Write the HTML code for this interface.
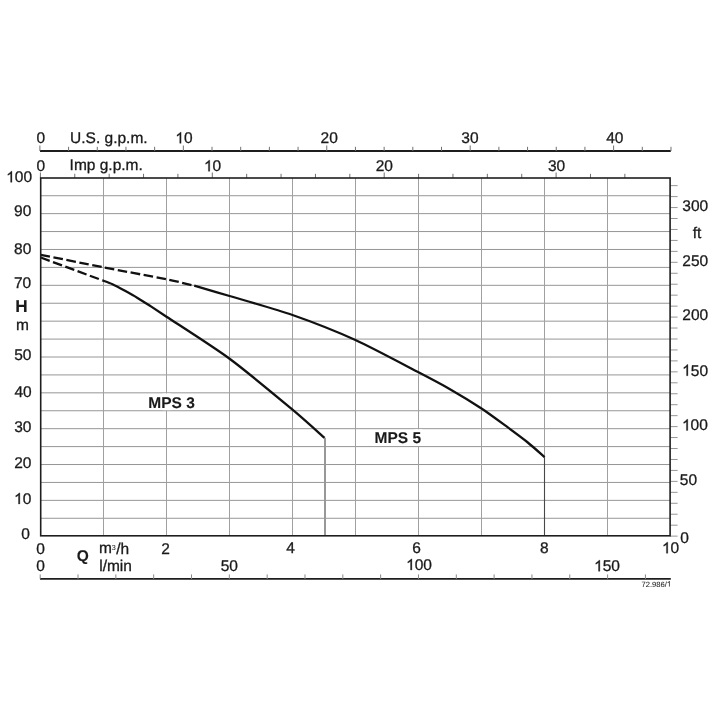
<!DOCTYPE html>
<html><head><meta charset="utf-8"><style>
html,body{margin:0;padding:0;background:#fff;width:720px;height:720px;overflow:hidden}
svg{display:block;will-change:transform}
</style></head><body>
<svg width="720" height="720" viewBox="0 0 720 720" font-family="Liberation Sans, sans-serif" fill="#1a1a1a" text-rendering="geometricPrecision">
<rect width="720" height="720" fill="#fff"/>
<line x1="40.70" y1="518.28" x2="670.10" y2="518.28" stroke="#969696" stroke-width="1"/>
<line x1="40.70" y1="500.36" x2="670.10" y2="500.36" stroke="#969696" stroke-width="1"/>
<line x1="40.70" y1="482.44" x2="670.10" y2="482.44" stroke="#969696" stroke-width="1"/>
<line x1="40.70" y1="464.52" x2="670.10" y2="464.52" stroke="#969696" stroke-width="1"/>
<line x1="40.70" y1="446.60" x2="670.10" y2="446.60" stroke="#969696" stroke-width="1"/>
<line x1="40.70" y1="428.68" x2="670.10" y2="428.68" stroke="#969696" stroke-width="1"/>
<line x1="40.70" y1="410.76" x2="670.10" y2="410.76" stroke="#969696" stroke-width="1"/>
<line x1="40.70" y1="392.84" x2="670.10" y2="392.84" stroke="#969696" stroke-width="1"/>
<line x1="40.70" y1="374.92" x2="670.10" y2="374.92" stroke="#969696" stroke-width="1"/>
<line x1="40.70" y1="357.00" x2="670.10" y2="357.00" stroke="#969696" stroke-width="1"/>
<line x1="40.70" y1="339.08" x2="670.10" y2="339.08" stroke="#969696" stroke-width="1"/>
<line x1="40.70" y1="321.16" x2="670.10" y2="321.16" stroke="#969696" stroke-width="1"/>
<line x1="40.70" y1="303.24" x2="670.10" y2="303.24" stroke="#969696" stroke-width="1"/>
<line x1="40.70" y1="285.32" x2="670.10" y2="285.32" stroke="#969696" stroke-width="1"/>
<line x1="40.70" y1="267.40" x2="670.10" y2="267.40" stroke="#969696" stroke-width="1"/>
<line x1="40.70" y1="249.48" x2="670.10" y2="249.48" stroke="#969696" stroke-width="1"/>
<line x1="40.70" y1="231.56" x2="670.10" y2="231.56" stroke="#969696" stroke-width="1"/>
<line x1="40.70" y1="213.64" x2="670.10" y2="213.64" stroke="#969696" stroke-width="1"/>
<line x1="40.70" y1="195.72" x2="670.10" y2="195.72" stroke="#969696" stroke-width="1"/>
<rect x="103" y="178.00" width="1" height="357.80" fill="#a0a0a0"/>
<rect x="166" y="178.00" width="1" height="357.80" fill="#a0a0a0"/>
<rect x="229" y="178.00" width="1" height="357.80" fill="#a0a0a0"/>
<rect x="292" y="178.00" width="1" height="357.80" fill="#a0a0a0"/>
<rect x="355" y="178.00" width="1" height="357.80" fill="#a0a0a0"/>
<rect x="418" y="178.00" width="1" height="357.80" fill="#a0a0a0"/>
<rect x="481" y="178.00" width="1" height="357.80" fill="#a0a0a0"/>
<rect x="544" y="178.00" width="1" height="357.80" fill="#a0a0a0"/>
<rect x="607" y="178.00" width="1" height="357.80" fill="#a0a0a0"/>
<rect x="162.58" y="393.44" width="8" height="16.72" fill="#fff"/>
<rect x="414.34" y="429.28" width="8" height="16.72" fill="#fff"/>
<line x1="670.10" y1="536.14" x2="677.60" y2="536.14" stroke="#969696" stroke-width="1"/>
<line x1="670.10" y1="525.19" x2="677.60" y2="525.19" stroke="#969696" stroke-width="1"/>
<line x1="670.10" y1="514.23" x2="677.60" y2="514.23" stroke="#969696" stroke-width="1"/>
<line x1="670.10" y1="503.28" x2="677.60" y2="503.28" stroke="#969696" stroke-width="1"/>
<line x1="670.10" y1="492.33" x2="677.60" y2="492.33" stroke="#969696" stroke-width="1"/>
<line x1="670.10" y1="481.38" x2="677.60" y2="481.38" stroke="#969696" stroke-width="1"/>
<line x1="670.10" y1="470.42" x2="677.60" y2="470.42" stroke="#969696" stroke-width="1"/>
<line x1="670.10" y1="459.47" x2="677.60" y2="459.47" stroke="#969696" stroke-width="1"/>
<line x1="670.10" y1="448.52" x2="677.60" y2="448.52" stroke="#969696" stroke-width="1"/>
<line x1="670.10" y1="437.56" x2="677.60" y2="437.56" stroke="#969696" stroke-width="1"/>
<line x1="670.10" y1="426.61" x2="677.60" y2="426.61" stroke="#969696" stroke-width="1"/>
<line x1="670.10" y1="415.66" x2="677.60" y2="415.66" stroke="#969696" stroke-width="1"/>
<line x1="670.10" y1="404.70" x2="677.60" y2="404.70" stroke="#969696" stroke-width="1"/>
<line x1="670.10" y1="393.75" x2="677.60" y2="393.75" stroke="#969696" stroke-width="1"/>
<line x1="670.10" y1="382.80" x2="677.60" y2="382.80" stroke="#969696" stroke-width="1"/>
<line x1="670.10" y1="371.85" x2="677.60" y2="371.85" stroke="#969696" stroke-width="1"/>
<line x1="670.10" y1="360.89" x2="677.60" y2="360.89" stroke="#969696" stroke-width="1"/>
<line x1="670.10" y1="349.94" x2="677.60" y2="349.94" stroke="#969696" stroke-width="1"/>
<line x1="670.10" y1="338.99" x2="677.60" y2="338.99" stroke="#969696" stroke-width="1"/>
<line x1="670.10" y1="328.03" x2="677.60" y2="328.03" stroke="#969696" stroke-width="1"/>
<line x1="670.10" y1="317.08" x2="677.60" y2="317.08" stroke="#969696" stroke-width="1"/>
<line x1="670.10" y1="306.13" x2="677.60" y2="306.13" stroke="#969696" stroke-width="1"/>
<line x1="670.10" y1="295.17" x2="677.60" y2="295.17" stroke="#969696" stroke-width="1"/>
<line x1="670.10" y1="284.22" x2="677.60" y2="284.22" stroke="#969696" stroke-width="1"/>
<line x1="670.10" y1="273.27" x2="677.60" y2="273.27" stroke="#969696" stroke-width="1"/>
<line x1="670.10" y1="262.31" x2="677.60" y2="262.31" stroke="#969696" stroke-width="1"/>
<line x1="670.10" y1="251.36" x2="677.60" y2="251.36" stroke="#969696" stroke-width="1"/>
<line x1="670.10" y1="240.41" x2="677.60" y2="240.41" stroke="#969696" stroke-width="1"/>
<line x1="670.10" y1="229.46" x2="677.60" y2="229.46" stroke="#969696" stroke-width="1"/>
<line x1="670.10" y1="218.50" x2="677.60" y2="218.50" stroke="#969696" stroke-width="1"/>
<line x1="670.10" y1="207.55" x2="677.60" y2="207.55" stroke="#969696" stroke-width="1"/>
<line x1="670.10" y1="196.60" x2="677.60" y2="196.60" stroke="#969696" stroke-width="1"/>
<line x1="670.10" y1="185.64" x2="677.60" y2="185.64" stroke="#969696" stroke-width="1"/>
<line x1="40.00" y1="151.0" x2="670.80" y2="151.0" stroke="#1e1e1e" stroke-width="1.8"/>
<line x1="39.90" y1="145.5" x2="39.90" y2="151.0" stroke="#707070" stroke-width="1"/>
<line x1="68.59" y1="146.8" x2="68.59" y2="151.0" stroke="#707070" stroke-width="1"/>
<line x1="97.27" y1="146.8" x2="97.27" y2="151.0" stroke="#707070" stroke-width="1"/>
<line x1="125.96" y1="146.8" x2="125.96" y2="151.0" stroke="#707070" stroke-width="1"/>
<line x1="154.64" y1="146.8" x2="154.64" y2="151.0" stroke="#707070" stroke-width="1"/>
<line x1="183.33" y1="145.5" x2="183.33" y2="151.0" stroke="#707070" stroke-width="1"/>
<line x1="212.02" y1="146.8" x2="212.02" y2="151.0" stroke="#707070" stroke-width="1"/>
<line x1="240.70" y1="146.8" x2="240.70" y2="151.0" stroke="#707070" stroke-width="1"/>
<line x1="269.39" y1="146.8" x2="269.39" y2="151.0" stroke="#707070" stroke-width="1"/>
<line x1="298.07" y1="146.8" x2="298.07" y2="151.0" stroke="#707070" stroke-width="1"/>
<line x1="326.76" y1="145.5" x2="326.76" y2="151.0" stroke="#707070" stroke-width="1"/>
<line x1="355.45" y1="146.8" x2="355.45" y2="151.0" stroke="#707070" stroke-width="1"/>
<line x1="384.13" y1="146.8" x2="384.13" y2="151.0" stroke="#707070" stroke-width="1"/>
<line x1="412.82" y1="146.8" x2="412.82" y2="151.0" stroke="#707070" stroke-width="1"/>
<line x1="441.50" y1="146.8" x2="441.50" y2="151.0" stroke="#707070" stroke-width="1"/>
<line x1="470.19" y1="145.5" x2="470.19" y2="151.0" stroke="#707070" stroke-width="1"/>
<line x1="498.88" y1="146.8" x2="498.88" y2="151.0" stroke="#707070" stroke-width="1"/>
<line x1="527.56" y1="146.8" x2="527.56" y2="151.0" stroke="#707070" stroke-width="1"/>
<line x1="556.25" y1="146.8" x2="556.25" y2="151.0" stroke="#707070" stroke-width="1"/>
<line x1="584.93" y1="146.8" x2="584.93" y2="151.0" stroke="#707070" stroke-width="1"/>
<line x1="613.62" y1="145.5" x2="613.62" y2="151.0" stroke="#707070" stroke-width="1"/>
<line x1="642.31" y1="146.8" x2="642.31" y2="151.0" stroke="#707070" stroke-width="1"/>
<line x1="670.99" y1="146.8" x2="670.99" y2="151.0" stroke="#707070" stroke-width="1"/>
<line x1="40.40" y1="172.49999999999994" x2="40.40" y2="177.99999999999994" stroke="#707070" stroke-width="1"/>
<line x1="74.78" y1="173.79999999999995" x2="74.78" y2="177.99999999999994" stroke="#707070" stroke-width="1"/>
<line x1="109.16" y1="173.79999999999995" x2="109.16" y2="177.99999999999994" stroke="#707070" stroke-width="1"/>
<line x1="143.54" y1="173.79999999999995" x2="143.54" y2="177.99999999999994" stroke="#707070" stroke-width="1"/>
<line x1="177.92" y1="173.79999999999995" x2="177.92" y2="177.99999999999994" stroke="#707070" stroke-width="1"/>
<line x1="212.30" y1="172.49999999999994" x2="212.30" y2="177.99999999999994" stroke="#707070" stroke-width="1"/>
<line x1="246.68" y1="173.79999999999995" x2="246.68" y2="177.99999999999994" stroke="#707070" stroke-width="1"/>
<line x1="281.06" y1="173.79999999999995" x2="281.06" y2="177.99999999999994" stroke="#707070" stroke-width="1"/>
<line x1="315.44" y1="173.79999999999995" x2="315.44" y2="177.99999999999994" stroke="#707070" stroke-width="1"/>
<line x1="349.82" y1="173.79999999999995" x2="349.82" y2="177.99999999999994" stroke="#707070" stroke-width="1"/>
<line x1="384.20" y1="172.49999999999994" x2="384.20" y2="177.99999999999994" stroke="#707070" stroke-width="1"/>
<line x1="418.58" y1="173.79999999999995" x2="418.58" y2="177.99999999999994" stroke="#707070" stroke-width="1"/>
<line x1="452.96" y1="173.79999999999995" x2="452.96" y2="177.99999999999994" stroke="#707070" stroke-width="1"/>
<line x1="487.34" y1="173.79999999999995" x2="487.34" y2="177.99999999999994" stroke="#707070" stroke-width="1"/>
<line x1="521.72" y1="173.79999999999995" x2="521.72" y2="177.99999999999994" stroke="#707070" stroke-width="1"/>
<line x1="556.10" y1="172.49999999999994" x2="556.10" y2="177.99999999999994" stroke="#707070" stroke-width="1"/>
<line x1="590.48" y1="173.79999999999995" x2="590.48" y2="177.99999999999994" stroke="#707070" stroke-width="1"/>
<line x1="624.86" y1="173.79999999999995" x2="624.86" y2="177.99999999999994" stroke="#707070" stroke-width="1"/>
<line x1="40.00" y1="578.9" x2="670.80" y2="578.9" stroke="#1e1e1e" stroke-width="1.9"/>
<line x1="40.20" y1="574.4" x2="40.20" y2="578.9" stroke="#8a8a8a" stroke-width="1"/>
<line x1="78.03" y1="574.4" x2="78.03" y2="578.9" stroke="#8a8a8a" stroke-width="1"/>
<line x1="115.85" y1="574.4" x2="115.85" y2="578.9" stroke="#8a8a8a" stroke-width="1"/>
<line x1="153.68" y1="574.4" x2="153.68" y2="578.9" stroke="#8a8a8a" stroke-width="1"/>
<line x1="191.51" y1="574.4" x2="191.51" y2="578.9" stroke="#8a8a8a" stroke-width="1"/>
<line x1="229.33" y1="574.4" x2="229.33" y2="578.9" stroke="#8a8a8a" stroke-width="1"/>
<line x1="267.16" y1="574.4" x2="267.16" y2="578.9" stroke="#8a8a8a" stroke-width="1"/>
<line x1="304.99" y1="574.4" x2="304.99" y2="578.9" stroke="#8a8a8a" stroke-width="1"/>
<line x1="342.82" y1="574.4" x2="342.82" y2="578.9" stroke="#8a8a8a" stroke-width="1"/>
<line x1="380.64" y1="574.4" x2="380.64" y2="578.9" stroke="#8a8a8a" stroke-width="1"/>
<line x1="418.47" y1="574.4" x2="418.47" y2="578.9" stroke="#8a8a8a" stroke-width="1"/>
<line x1="456.30" y1="574.4" x2="456.30" y2="578.9" stroke="#8a8a8a" stroke-width="1"/>
<line x1="494.12" y1="574.4" x2="494.12" y2="578.9" stroke="#8a8a8a" stroke-width="1"/>
<line x1="531.95" y1="574.4" x2="531.95" y2="578.9" stroke="#8a8a8a" stroke-width="1"/>
<line x1="569.78" y1="574.4" x2="569.78" y2="578.9" stroke="#8a8a8a" stroke-width="1"/>
<line x1="607.61" y1="574.4" x2="607.61" y2="578.9" stroke="#8a8a8a" stroke-width="1"/>
<line x1="645.43" y1="574.4" x2="645.43" y2="578.9" stroke="#8a8a8a" stroke-width="1"/>
<path d="M40.70,254.80 C48.55,256.36 87.78,264.24 103.50,267.30 C119.22,270.36 155.16,277.00 166.50,279.30 C177.84,281.60 190.74,284.90 194.20,285.70" fill="none" stroke="#111" stroke-width="2.3" stroke-dasharray="9.6,3.5" stroke-linejoin="round"/>
<path d="M194.20,285.70 C198.62,286.99 217.31,292.34 229.60,296.00 C241.89,299.66 276.77,309.50 292.50,315.00 C308.23,320.50 339.65,332.84 355.40,340.00 C371.15,347.16 406.68,366.15 418.50,372.30 C430.32,378.45 442.12,384.68 450.00,389.20 C457.88,393.72 474.27,403.73 481.50,408.50 C488.73,413.27 502.09,423.21 507.80,427.40 C513.51,431.59 522.60,438.29 527.20,442.00 C531.80,445.71 542.43,455.21 544.60,457.10" fill="none" stroke="#111" stroke-width="2.3" stroke-linejoin="round"/>
<path d="M40.70,257.50 L102.50,280.40" fill="none" stroke="#111" stroke-width="2.3" stroke-dasharray="9.6,3.5"/>
<path d="M102.50,280.40 C103.75,280.88 109.69,282.90 112.50,284.20 C115.31,285.50 121.88,289.09 125.00,290.80 C128.12,292.51 134.38,296.02 137.50,297.90 C140.62,299.77 146.38,303.45 150.00,305.80 C153.62,308.15 156.55,310.08 166.50,316.70 C176.45,323.32 213.85,347.14 229.60,358.75 C245.35,370.36 280.62,399.71 292.50,409.60 C304.38,419.49 320.59,434.36 324.60,437.90" fill="none" stroke="#111" stroke-width="2.3" stroke-linejoin="round"/>
<line x1="544.5" y1="456.90" x2="544.5" y2="535.80" stroke="#484848" stroke-width="1.1"/>
<rect x="324" y="437.9" width="2" height="97.90" fill="#989898"/>
<rect x="40.70" y="178.00" width="629.40" height="357.80" fill="none" stroke="#1e1e1e" stroke-width="1.6"/>
<text x="40.74" y="143.18" text-anchor="middle" font-size="15.5" font-weight="normal" stroke="#1a1a1a" stroke-width="0.3">0</text>
<text x="70.12" y="143.00" text-anchor="start" font-size="15.5" font-weight="normal" stroke="#1a1a1a" stroke-width="0.3">U.S. g.p.m.</text>
<path transform="translate(175.322,143.280) scale(0.007568,-0.007568)" d="M763,0 L583,0 L583,1147 Q518,1085 412,1023 Q306,961 222,930 L222,1104 Q373,1175 486,1276 Q599,1377 646,1466 L763,1466 Z" stroke="#1a1a1a" stroke-width="39.64"/>
<text x="183.94" y="143.28" text-anchor="middle" font-size="15.5" font-weight="normal" stroke="#1a1a1a" stroke-width="0.3">&#8199;0</text>
<text x="329.23" y="143.34" text-anchor="middle" font-size="15.5" font-weight="normal" stroke="#1a1a1a" stroke-width="0.3">20</text>
<text x="469.93" y="143.00" text-anchor="middle" font-size="15.5" font-weight="normal" stroke="#1a1a1a" stroke-width="0.3">30</text>
<text x="614.85" y="143.00" text-anchor="middle" font-size="15.5" font-weight="normal" stroke="#1a1a1a" stroke-width="0.3">40</text>
<text x="40.74" y="170.65" text-anchor="middle" font-size="15.5" font-weight="normal" stroke="#1a1a1a" stroke-width="0.3">0</text>
<text x="69.58" y="169.90" text-anchor="start" font-size="15.5" font-weight="normal" stroke="#1a1a1a" stroke-width="0.3">Imp g.p.m.</text>
<path transform="translate(203.978,171.250) scale(0.007568,-0.007568)" d="M763,0 L583,0 L583,1147 Q518,1085 412,1023 Q306,961 222,930 L222,1104 Q373,1175 486,1276 Q599,1377 646,1466 L763,1466 Z" stroke="#1a1a1a" stroke-width="39.64"/>
<text x="212.60" y="171.25" text-anchor="middle" font-size="15.5" font-weight="normal" stroke="#1a1a1a" stroke-width="0.3">&#8199;0</text>
<text x="384.34" y="171.35" text-anchor="middle" font-size="15.5" font-weight="normal" stroke="#1a1a1a" stroke-width="0.3">20</text>
<text x="556.56" y="170.50" text-anchor="middle" font-size="15.5" font-weight="normal" stroke="#1a1a1a" stroke-width="0.3">30</text>
<path transform="translate(6.179,182.325) scale(0.007568,-0.007568)" d="M763,0 L583,0 L583,1147 Q518,1085 412,1023 Q306,961 222,930 L222,1104 Q373,1175 486,1276 Q599,1377 646,1466 L763,1466 Z" stroke="#1a1a1a" stroke-width="39.64"/>
<text x="32.04" y="182.32" text-anchor="end" font-size="15.5" font-weight="normal" stroke="#1a1a1a" stroke-width="0.3">&#8199;00</text>
<text x="31.34" y="215.89" text-anchor="end" font-size="15.5" font-weight="normal" stroke="#1a1a1a" stroke-width="0.3">90</text>
<text x="31.34" y="253.72" text-anchor="end" font-size="15.5" font-weight="normal" stroke="#1a1a1a" stroke-width="0.3">80</text>
<text x="31.16" y="288.08" text-anchor="end" font-size="15.5" font-weight="normal" stroke="#1a1a1a" stroke-width="0.3">70</text>
<text x="31.50" y="360.48" text-anchor="end" font-size="15.5" font-weight="normal" stroke="#1a1a1a" stroke-width="0.3">50</text>
<text x="31.65" y="396.53" text-anchor="end" font-size="15.5" font-weight="normal" stroke="#1a1a1a" stroke-width="0.3">40</text>
<text x="31.50" y="431.78" text-anchor="end" font-size="15.5" font-weight="normal" stroke="#1a1a1a" stroke-width="0.3">30</text>
<text x="31.50" y="467.72" text-anchor="end" font-size="15.5" font-weight="normal" stroke="#1a1a1a" stroke-width="0.3">20</text>
<path transform="translate(14.079,503.970) scale(0.007568,-0.007568)" d="M763,0 L583,0 L583,1147 Q518,1085 412,1023 Q306,961 222,930 L222,1104 Q373,1175 486,1276 Q599,1377 646,1466 L763,1466 Z" stroke="#1a1a1a" stroke-width="39.64"/>
<text x="31.32" y="503.97" text-anchor="end" font-size="15.5" font-weight="normal" stroke="#1a1a1a" stroke-width="0.3">&#8199;0</text>
<text x="29.99" y="539.42" text-anchor="end" font-size="15.5" font-weight="normal" stroke="#1a1a1a" stroke-width="0.3">0</text>
<text x="21.45" y="311.91" text-anchor="middle" font-size="17.2" font-weight="bold" stroke="#1a1a1a" stroke-width="0.1">H</text>
<text x="22.39" y="329.50" text-anchor="middle" font-size="15.5" font-weight="normal" stroke="#1a1a1a" stroke-width="0.3">m</text>
<text x="682.28" y="210.87" text-anchor="start" font-size="15.5" font-weight="normal" stroke="#1a1a1a" stroke-width="0.3">300</text>
<text x="682.28" y="265.80" text-anchor="start" font-size="15.5" font-weight="normal" stroke="#1a1a1a" stroke-width="0.3">250</text>
<text x="682.28" y="320.33" text-anchor="start" font-size="15.5" font-weight="normal" stroke="#1a1a1a" stroke-width="0.3">200</text>
<path transform="translate(682.150,375.714) scale(0.007568,-0.007568)" d="M763,0 L583,0 L583,1147 Q518,1085 412,1023 Q306,961 222,930 L222,1104 Q373,1175 486,1276 Q599,1377 646,1466 L763,1466 Z" stroke="#1a1a1a" stroke-width="39.64"/>
<text x="682.15" y="375.71" text-anchor="start" font-size="15.5" font-weight="normal" stroke="#1a1a1a" stroke-width="0.3">&#8199;50</text>
<path transform="translate(682.010,430.403) scale(0.007568,-0.007568)" d="M763,0 L583,0 L583,1147 Q518,1085 412,1023 Q306,961 222,930 L222,1104 Q373,1175 486,1276 Q599,1377 646,1466 L763,1466 Z" stroke="#1a1a1a" stroke-width="39.64"/>
<text x="682.01" y="430.40" text-anchor="start" font-size="15.5" font-weight="normal" stroke="#1a1a1a" stroke-width="0.3">&#8199;00</text>
<text x="679.84" y="485.10" text-anchor="start" font-size="15.5" font-weight="normal" stroke="#1a1a1a" stroke-width="0.3">50</text>
<text x="680.14" y="543.16" text-anchor="start" font-size="15.5" font-weight="normal" stroke="#1a1a1a" stroke-width="0.3">0</text>
<text x="696.96" y="237.58" text-anchor="middle" font-size="15.5" font-weight="normal" stroke="#1a1a1a" stroke-width="0.3">ft</text>
<text x="40.57" y="553.56" text-anchor="middle" font-size="15.5" font-weight="normal" stroke="#1a1a1a" stroke-width="0.3">0</text>
<text x="165.51" y="553.56" text-anchor="middle" font-size="15.5" font-weight="normal" stroke="#1a1a1a" stroke-width="0.3">2</text>
<text x="290.62" y="553.30" text-anchor="middle" font-size="15.5" font-weight="normal" stroke="#1a1a1a" stroke-width="0.3">4</text>
<text x="416.67" y="553.30" text-anchor="middle" font-size="15.5" font-weight="normal" stroke="#1a1a1a" stroke-width="0.3">6</text>
<text x="544.26" y="553.30" text-anchor="middle" font-size="15.5" font-weight="normal" stroke="#1a1a1a" stroke-width="0.3">8</text>
<path transform="translate(662.000,553.250) scale(0.007568,-0.007568)" d="M763,0 L583,0 L583,1147 Q518,1085 412,1023 Q306,961 222,930 L222,1104 Q373,1175 486,1276 Q599,1377 646,1466 L763,1466 Z" stroke="#1a1a1a" stroke-width="39.64"/>
<text x="670.62" y="553.25" text-anchor="middle" font-size="15.5" font-weight="normal" stroke="#1a1a1a" stroke-width="0.3">&#8199;0</text>
<text x="99.00" y="553.30" text-anchor="start" font-size="15.5" font-weight="normal" stroke="#1a1a1a" stroke-width="0.3">m</text>
<text x="111.70" y="550.00" text-anchor="start" font-size="7.2" font-weight="normal" stroke="#1a1a1a" stroke-width="0.05">3</text>
<text x="116.20" y="553.50" text-anchor="start" font-size="15.5" font-weight="normal" stroke="#1a1a1a" stroke-width="0.3">/h</text>
<text x="40.57" y="570.60" text-anchor="middle" font-size="15.5" font-weight="normal" stroke="#1a1a1a" stroke-width="0.3">0</text>
<text x="99.21" y="571.48" text-anchor="start" font-size="15.5" font-weight="normal" stroke="#1a1a1a" stroke-width="0.3">l/min</text>
<text x="229.36" y="571.08" text-anchor="middle" font-size="15.5" font-weight="normal" stroke="#1a1a1a" stroke-width="0.3">50</text>
<path transform="translate(406.119,570.000) scale(0.007568,-0.007568)" d="M763,0 L583,0 L583,1147 Q518,1085 412,1023 Q306,961 222,930 L222,1104 Q373,1175 486,1276 Q599,1377 646,1466 L763,1466 Z" stroke="#1a1a1a" stroke-width="39.64"/>
<text x="419.05" y="570.00" text-anchor="middle" font-size="15.5" font-weight="normal" stroke="#1a1a1a" stroke-width="0.3">&#8199;00</text>
<path transform="translate(594.099,571.270) scale(0.007568,-0.007568)" d="M763,0 L583,0 L583,1147 Q518,1085 412,1023 Q306,961 222,930 L222,1104 Q373,1175 486,1276 Q599,1377 646,1466 L763,1466 Z" stroke="#1a1a1a" stroke-width="39.64"/>
<text x="607.03" y="571.27" text-anchor="middle" font-size="15.5" font-weight="normal" stroke="#1a1a1a" stroke-width="0.3">&#8199;50</text>
<text x="82.83" y="561.23" text-anchor="middle" font-size="15.5" font-weight="bold" stroke="#1a1a1a" stroke-width="0.1">Q</text>
<text x="148.34" y="408.24" text-anchor="start" font-size="15.5" font-weight="bold" stroke="#1a1a1a" stroke-width="0.1">MPS 3</text>
<text x="374.50" y="443.34" text-anchor="start" font-size="15.5" font-weight="bold" stroke="#1a1a1a" stroke-width="0.1">MPS 5</text>
<path transform="translate(666.813,586.545) scale(0.003711,-0.003711)" d="M763,0 L583,0 L583,1147 Q518,1085 412,1023 Q306,961 222,930 L222,1104 Q373,1175 486,1276 Q599,1377 646,1466 L763,1466 Z" stroke="#1a1a1a" stroke-width="13.47"/>
<text x="671.04" y="586.55" text-anchor="end" font-size="7.6" font-weight="normal" stroke="#1a1a1a" stroke-width="0.05">72.986/&#8199;</text>
</svg>
</body></html>
